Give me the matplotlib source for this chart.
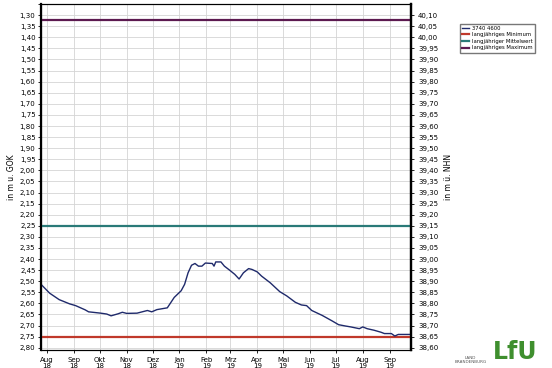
import numpy as np
import pandas as pd
import matplotlib
matplotlib.use("Agg")
from matplotlib import pyplot as plt
from matplotlib.ticker import FuncFormatter

# Wasserstand (m unter GOK)
dates = ["2018-07-25", "2018-08-04", "2018-08-15", "2018-08-27", "2018-09-03",
         "2018-09-14", "2018-09-18", "2018-10-02", "2018-10-09", "2018-10-14",
         "2018-10-22", "2018-10-27", "2018-11-01", "2018-11-13", "2018-11-25",
         "2018-11-30", "2018-12-06", "2018-12-18", "2018-12-26", "2019-01-03",
         "2019-01-07", "2019-01-11", "2019-01-15", "2019-01-19", "2019-01-23",
         "2019-01-27", "2019-01-31", "2019-02-08", "2019-02-10", "2019-02-12",
         "2019-02-18", "2019-02-22", "2019-02-28", "2019-03-06", "2019-03-11",
         "2019-03-16", "2019-03-22", "2019-03-26", "2019-04-01", "2019-04-06",
         "2019-04-16", "2019-04-27", "2019-05-05", "2019-05-15", "2019-05-22",
         "2019-05-28", "2019-06-03", "2019-06-15", "2019-06-27", "2019-07-04",
         "2019-07-12", "2019-07-18", "2019-07-28", "2019-08-01", "2019-08-06",
         "2019-08-14", "2019-08-22", "2019-08-26", "2019-09-03", "2019-09-07",
         "2019-09-11", "2019-09-26"]
level = [2.514, 2.554, 2.583, 2.602, 2.610,
         2.629, 2.638, 2.644, 2.648, 2.656,
         2.647, 2.640, 2.645, 2.644, 2.632,
         2.638, 2.628, 2.620, 2.573, 2.543,
         2.514, 2.462, 2.428, 2.420, 2.432,
         2.432, 2.418, 2.420, 2.432, 2.413,
         2.413, 2.432, 2.450, 2.469, 2.490,
         2.462, 2.443, 2.447, 2.458, 2.477,
         2.507, 2.547, 2.566, 2.595, 2.607,
         2.610, 2.632, 2.654, 2.680, 2.696,
         2.702, 2.706, 2.714, 2.706, 2.714,
         2.721, 2.730, 2.736, 2.736, 2.747,
         2.740, 2.740]

lt_min = 2.75
lt_mean = 2.25
lt_max = 1.32
nhn_ref = 41.40  # m NHN = nhn_ref - m u. GOK

series_name = "3740 4600"
legend_labels = ["langjähriges Minimum", "langjähriger Mittelwert", "langjähriges Maximum"]
month_names = ["Jan", "Feb", "Mrz", "Apr", "Mai", "Jun", "Jul", "Aug", "Sep", "Okt", "Nov", "Dez"]

t = pd.to_datetime(dates)
x_start = pd.Timestamp("2018-07-25")
x_end = pd.Timestamp("2019-09-26")

fig = plt.figure(figsize=(5.52, 3.68), dpi=100)
ax = fig.add_axes([0.0743, 0.049, 0.6707, 0.94])

ax.plot(t, level, color="#1f2a6b", lw=1.0, label=series_name, zorder=4)
ax.axhline(lt_min, color="#c0392b", lw=1.6, label=legend_labels[0], zorder=3)
ax.axhline(lt_mean, color="#2a7a78", lw=1.6, label=legend_labels[1], zorder=3)
ax.axhline(lt_max, color="#5c1a50", lw=1.6, label=legend_labels[2], zorder=3)

ax.set_xlim(x_start, x_end)
ax.set_ylim(2.81, 1.25)

yt = np.round(np.arange(1.25, 2.801, 0.05), 2)
ax.set_yticks(yt)
ax.set_yticklabels(["" if v < 1.29 else f"{v:.2f}".replace(".", ",") for v in yt])

months = pd.date_range("2018-08-01", "2019-09-01", freq="MS")
ax.set_xticks(months)
ax.set_xticklabels([f"{month_names[m.month - 1]}\n{m.year % 100}" for m in months],
                   linespacing=1.1)

ax.tick_params(axis="both", labelsize=5, length=2, width=0.6, direction="out", pad=2)
ax.tick_params(axis="x", pad=3)
ax.grid(True, color="#d4d4d4", lw=0.6)
ax.set_axisbelow(True)

for side in ["left", "right"]:
    ax.spines[side].set_linewidth(1.6)
for side in ["top", "bottom"]:
    ax.spines[side].set_linewidth(0.8)

ax.set_ylabel("in m u. GOK", fontsize=5.5, labelpad=3)

ax2 = ax.twinx()
ax2.set_ylim(nhn_ref - 2.81, nhn_ref - 1.25)
yt2 = np.round(np.arange(38.60, 40.101, 0.05), 2)
ax2.set_yticks(yt2)
ax2.yaxis.set_major_formatter(FuncFormatter(lambda v, p: f"{v:.2f}".replace(".", ",")))
ax2.tick_params(axis="y", labelsize=5, length=2, width=0.6, pad=3)
ax2.set_ylabel("in m ü. NHN", fontsize=5.5, rotation=90, labelpad=4)
ax2.spines["right"].set_linewidth(1.6)

fig.legend(loc="upper left", bbox_to_anchor=(0.828, 0.943), fontsize=3.8,
           frameon=True, fancybox=False, edgecolor="#555555", handlelength=1.4,
           borderpad=0.4, labelspacing=0.3, handletextpad=0.5)

# Logos unten rechts
fig.text(0.852, 0.012, "LAND\nBRANDENBURG", fontsize=3, ha="center", va="bottom",
         color="#555555", linespacing=1.0)
fig.text(0.893, 0.012, "LfU", fontsize=17, fontweight="bold", color="#3f8f2e",
         ha="left", va="bottom")

fig.savefig("out.png", dpi=100)
